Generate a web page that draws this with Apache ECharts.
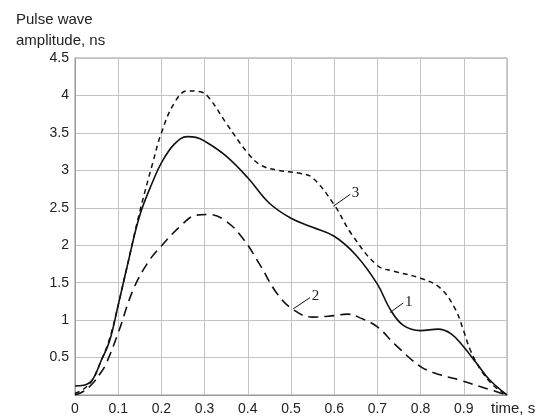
<!DOCTYPE html>
<html>
<head>
<meta charset="utf-8">
<script src="https://cdn.jsdelivr.net/npm/echarts@6/dist/echarts.min.js"></script>
<style>html,body{margin:0;padding:0;background:#fff}#c{width:536px;height:420px}</style>
</head>
<body>
<div id="c"></div>
<script>
// Curve 1 (solid)
var x1 = [0, 0.02, 0.04, 0.06, 0.08, 0.1, 0.12, 0.15, 0.18, 0.2, 0.23, 0.26, 0.28, 0.3, 0.35, 0.4, 0.45, 0.5, 0.55, 0.6, 0.65, 0.7, 0.73, 0.76, 0.8, 0.84, 0.87, 0.9, 0.93, 0.96, 1.0];
var y1 = [0.12, 0.13, 0.2, 0.45, 0.72, 1.2, 1.7, 2.4, 2.85, 3.1, 3.35, 3.45, 3.44, 3.39, 3.19, 2.9, 2.56, 2.36, 2.24, 2.12, 1.87, 1.48, 1.14, 0.93, 0.86, 0.88, 0.82, 0.64, 0.42, 0.2, 0];
// Curve 2 (long dash)
var x2 = [0, 0.02, 0.04, 0.06, 0.073, 0.1, 0.135, 0.17, 0.2, 0.243, 0.28, 0.31, 0.35, 0.39, 0.43, 0.467, 0.505, 0.55, 0.6, 0.63, 0.66, 0.7, 0.74, 0.8, 0.845, 0.89, 0.95, 1.0];
var y2 = [0, 0.05, 0.15, 0.3, 0.43, 0.83, 1.41, 1.78, 1.99, 2.25, 2.4, 2.41, 2.32, 2.08, 1.72, 1.36, 1.14, 1.04, 1.06, 1.08, 1.03, 0.91, 0.68, 0.38, 0.27, 0.2, 0.09, 0];
// Curve 3 (short dash)
var x3 = [0, 0.02, 0.04, 0.06, 0.08, 0.1, 0.12, 0.15, 0.18, 0.2, 0.23, 0.26, 0.29, 0.31, 0.35, 0.4, 0.43, 0.47, 0.52, 0.55, 0.6, 0.64, 0.7, 0.74, 0.8, 0.845, 0.88, 0.9, 0.915, 0.94, 0.97, 1.0];
var y3 = [0.02, 0.08, 0.2, 0.45, 0.75, 1.2, 1.7, 2.45, 3.1, 3.5, 3.9, 4.06, 4.05, 3.97, 3.63, 3.23, 3.07, 3.0, 2.96, 2.9, 2.54, 2.15, 1.73, 1.65, 1.56, 1.43, 1.15, 0.85, 0.6, 0.33, 0.12, 0];
// Annotation arrows: [tailX, tailY, headX, headY], label
var ann1 = [0.76, 1.23, 0.729, 1.10], lab1 = '1';
var ann2 = [0.544, 1.30, 0.505, 1.15], lab2 = '2';
var ann3 = [0.637, 2.68, 0.598, 2.52], lab3 = '3';
var xTicks = ['0', '0.1', '0.2', '0.3', '0.4', '0.5', '0.6', '0.7', '0.8', '0.9'];
var xName = 'time, s';
var yName = 'Pulse wave\namplitude, ns';

function pairs(xs, ys) { return xs.map(function (v, i) { return [v, ys[i]]; }); }
function arrow(a, lab) {
  return {
    silent: true,
    symbol: ['none', 'arrow'],
    symbolSize: [0, 9],
    lineStyle: { type: 'solid', width: 1, color: '#111' },
    label: { show: true, position: 'start', formatter: lab, fontFamily: 'Liberation Serif', fontSize: 15, color: '#222', distance: 2 },
    data: [[{ coord: [a[0], a[1]] }, { coord: [a[2], a[3]] }]]
  };
}
var font = 'Liberation Sans, Arial, sans-serif';
var chart = echarts.init(document.getElementById('c'), null, { renderer: 'canvas' });
chart.setOption({
  animation: false,
  title: { text: yName, left: 11, top: 4, textStyle: { fontFamily: font, fontSize: 15, fontWeight: 'normal', color: '#222', lineHeight: 21 } },
  graphic: [
    { type: 'text', x: 491, y: 401, silent: true, style: { text: xName, fontFamily: font, fontSize: 15, fill: '#222' } }
  ],
  grid: { left: 75, right: 29, top: 58, bottom: 25, show: true, borderColor: '#999', borderWidth: 1, outerBoundsMode: 'none', containLabel: false },
  xAxis: {
    type: 'value', min: 0, max: 1, interval: 0.1,
    axisLine: { lineStyle: { color: '#999' } }, axisTick: { show: false },
    axisLabel: { fontFamily: font, fontSize: 14, color: '#222', margin: 7, formatter: function (v) { var i = Math.round(v * 10); return i < xTicks.length ? xTicks[i] : ''; } },
    splitLine: { show: true, lineStyle: { color: '#c4c4c4', width: 1 } }
  },
  yAxis: {
    type: 'value', min: 0, max: 4.5, interval: 0.5,
    axisLine: { show: true, lineStyle: { color: '#999' } }, axisTick: { show: false },
    axisLabel: { fontFamily: font, fontSize: 14, color: '#222', margin: 6, formatter: function (v) { return v === 0 ? '' : String(v); } },
    splitLine: { show: true, lineStyle: { color: '#c4c4c4', width: 1 } }
  },
  series: [
    { type: 'line', data: pairs(x1, y1), smooth: 0.4, showSymbol: false, lineStyle: { color: '#111', width: 1.6, type: 'solid' }, markLine: arrow(ann1, lab1) },
    { type: 'line', data: pairs(x2, y2), smooth: 0.4, showSymbol: false, lineStyle: { color: '#111', width: 1.6, type: [10, 6] }, markLine: arrow(ann2, lab2) },
    { type: 'line', data: pairs(x3, y3), smooth: 0.4, showSymbol: false, lineStyle: { color: '#111', width: 1.5, type: [5, 4] }, markLine: arrow(ann3, lab3) }
  ]
});
</script>
</body>
</html>
